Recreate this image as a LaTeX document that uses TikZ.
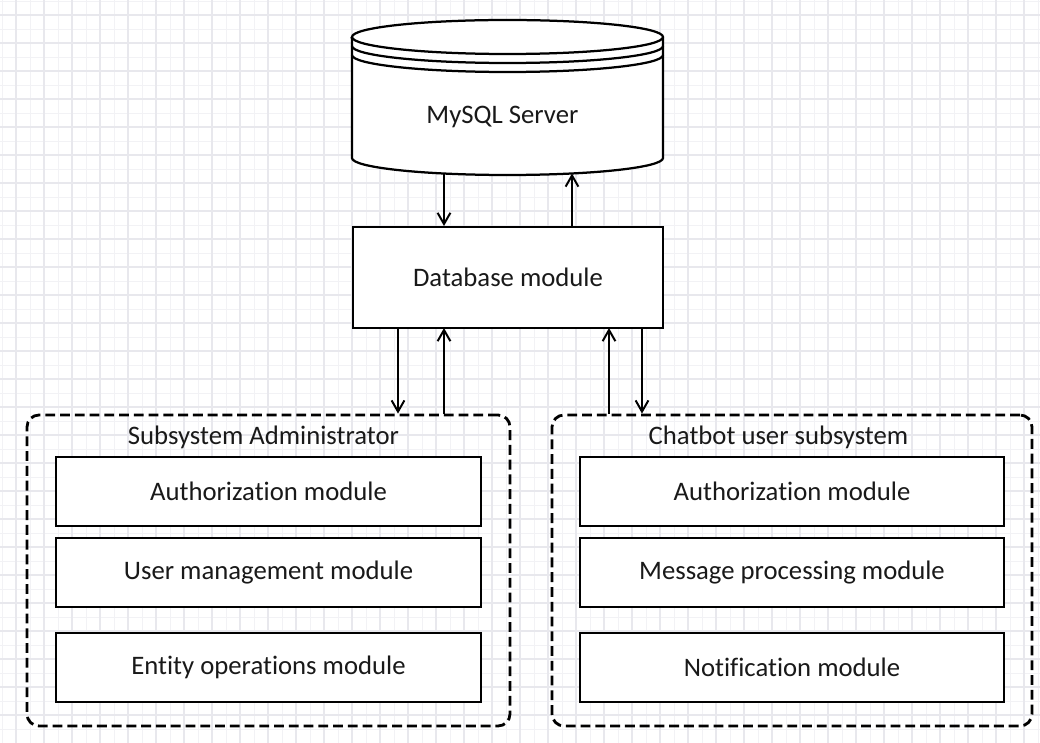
\documentclass[tikz,border=0pt]{standalone}
\usepackage{fontspec}
\setmainfont{Carlito}[Ligatures={NoCommon}]
\usetikzlibrary{arrows.meta}

\begin{document}
\begin{tikzpicture}[line width=1.4pt,
    every node/.style={font=\fontsize{19}{23}\selectfont, text=black!90},
    module/.style={draw, fill=white, minimum width=10.6cm, minimum height=1.725cm},
    group/.style={draw, dashed, dash pattern=on 7pt off 3.5pt, line width=2pt, rounded corners=0.3cm},
    arr/.style={-{Straight Barb[length=0.28cm,width=0.32cm]}}]

  \useasboundingbox (0,0) rectangle (26,18.55);

  % ---------- grid paper ----------
  \begin{scope}
    \clip (0,0) rectangle (26,18.55);
    \draw[line width=0.4pt, color=blue!20!black!5, shift={(0.05,0.325)}, step=0.35cm] (-0.35,-0.35) grid (26.35,18.9);
    \draw[line width=0.8pt, color=blue!20!black!9, shift={(0.4,0.675)}, step=0.7cm] (-0.7,-0.7) grid (26.35,18.9);
  \end{scope}

  % ---------- MySQL server (cylinder) ----------
  \draw[line width=1.6pt, fill=white] (8.8,17.625) -- (8.8,14.6)
      arc[start angle=180, end angle=360, x radius=3.8875cm, y radius=0.425cm]
      -- (16.575,17.625)
      arc[start angle=0, end angle=180, x radius=3.8875cm, y radius=0.425cm] -- cycle;
  \draw[line width=1.6pt] (8.8,17.625) arc[start angle=180, end angle=360, x radius=3.8875cm, y radius=0.425cm];
  \draw[line width=1.6pt] (8.8,17.4)   arc[start angle=180, end angle=360, x radius=3.8875cm, y radius=0.425cm];
  \draw[line width=1.6pt] (8.8,17.175) arc[start angle=180, end angle=360, x radius=3.8875cm, y radius=0.425cm];
  \node (mysql) at (12.56,15.625) {MySQL Server};
  \coordinate (sqlin)  at (11.1,14.212);
  \coordinate (sqlout) at (14.3,14.213);

  % ---------- database module ----------
  \node[draw, fill=white, minimum width=7.75cm, minimum height=2.525cm] (db) at (12.7,11.6125) {Database module};

  % ---------- subsystems ----------
  \node[group, minimum width=12.075cm, minimum height=7.775cm] (admin) at (6.7125,4.2875) {};
  \node[group, minimum width=12.0cm, minimum height=7.775cm] (chat) at (19.8,4.2875) {};
  \node (admintitle) at (6.5875,7.625) {Subsystem Administrator};
  \node (chattitle) at (19.4625,7.625) {Chatbot user subsystem};

  \node[module, minimum width=10.625cm] (adminauth) at (6.7125,6.2625) {Authorization module};
  \node[module, minimum width=10.625cm] (adminuser) at (6.7125,4.2375) {User management module};
  \node[module, minimum width=10.625cm] (adminent)  at (6.7125,1.8625) {Entity operations module};

  \node[module] (chatauth) at (19.8,6.2625) {Authorization module};
  \node[module] (chatmsg)  at (19.8,4.2375) {Message processing module};
  \node[module] (chatnote) at (19.8,1.8625) {Notification module};

  % ---------- arrows ----------
  \draw[arr] (sqlin) -- (sqlin |- db.north);
  \draw[arr] (sqlout |- db.north) -- (sqlout);

  \coordinate (dbA) at (9.95,10.35);
  \coordinate (dbB) at (11.1,10.35);
  \coordinate (dbC) at (15.225,10.35);
  \coordinate (dbD) at (16.05,10.35);
  \draw[arr] (dbA) -- (dbA |- admin.north);
  \draw[arr] (dbB |- admin.north) -- (dbB);
  \draw[arr] (dbC |- chat.north) -- (dbC);
  \draw[arr] (dbD) -- (dbD |- chat.north);

\end{tikzpicture}
\end{document}
